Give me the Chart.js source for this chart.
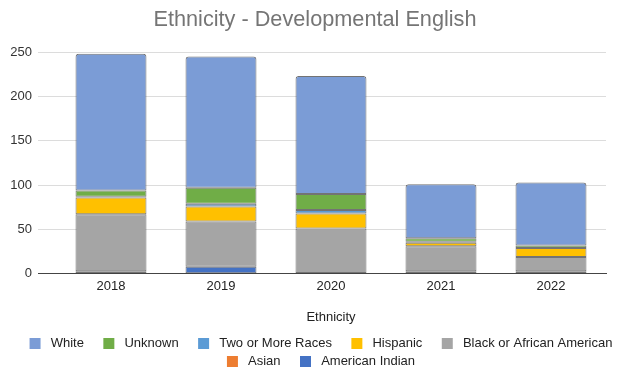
<!DOCTYPE html>
<html>
<head>
<meta charset="utf-8">
<script src="https://cdn.jsdelivr.net/npm/chart.js@4"></script>
<style>
  body { margin: 0; background: #fff; }
  #wrap { width: 620px; height: 367px; }
</style>
</head>
<body>
<div id="wrap"><canvas id="grafico"></canvas></div>
<script>
const anos = ['2018', '2019', '2020', '2021', '2022'];
const americanIndian = [3, 8, 0, 3, 3];
const asian = [0, 0, 1, 0, 0];
const black = [64, 51, 50, 28, 16];
const hispanic = [19, 17, 17, 4, 10];
const twoOrMore = [1, 3, 4, 1, 0];
const unknown = [7, 18, 18, 4, 3];
const white = [154, 148, 133, 61, 71];
const yTicks = [0, 50, 100, 150, 200, 250];

Chart.defaults.font.family = '"Liberation Sans", Arial, sans-serif';
Chart.defaults.color = '#333';

function serie(nome, valores, cor, extra) {
    return Object.assign({
        label: nome,
        data: valores,
        backgroundColor: cor,
        borderColor: 'rgba(55,55,55,0.7)',
        borderWidth: 1,
        borderSkipped: false,
        barPercentage: 0.645,
        categoryPercentage: 1
    }, extra || {});
}

// ajustes finos de posicao do titulo e da legenda
const ajusteLegenda = {
    id: 'ajusteLegenda',
    beforeLayout(chart) {
        const lg = chart.legend;
        if (lg && !lg._ajustado) {
            const fitOriginal = lg.fit;
            lg.fit = function() {
                fitOriginal.call(this);
                this.height -= 4;
            };
            lg._ajustado = true;
        }
    },
    afterLayout(chart) {
        const lg = chart.legend;
        if (lg) {
            lg.left += 16; lg.right += 16;
            lg.top += 7; lg.bottom += 7;
        }
        const tt = chart.titleBlock;
        if (tt) {
            tt.left += 10; tt.right += 10;
        }
    }
};

const semEspacoFinal = ['Black or African American', 'American Indian'];

new Chart(document.getElementById('grafico'), {
    type: 'bar',
    data: {
        labels: anos,
        datasets: [
            serie('American Indian', americanIndian, '#4472c4'),
            serie('Asian', asian, '#ed7d31'),
            serie('Black or African American', black, '#a5a5a5'),
            serie('Hispanic', hispanic, '#ffc000'),
            serie('Two or More Races', twoOrMore, '#5b9bd5'),
            serie('Unknown', unknown, '#70ad47'),
            serie('White', white, '#7b9cd6', { borderRadius: { topLeft: 3, topRight: 3 } })
        ]
    },
    plugins: [ajusteLegenda],
    options: {
        responsive: true,
        maintainAspectRatio: false,
        animation: false,
        layout: { padding: { left: 4, right: 14, top: 0, bottom: 0 } },
        scales: {
            x: {
                stacked: true,
                grid: { display: false, drawTicks: false },
                border: { color: '#444', width: 1 },
                ticks: { font: { size: 13 }, color: '#222', padding: 5 },
                title: { display: true, text: 'Ethnicity', font: { size: 13 }, color: '#222', padding: { top: 10, bottom: 0 } }
            },
            y: {
                stacked: true,
                min: 0,
                max: 250,
                afterBuildTicks: function(scale) {
                    scale.ticks = yTicks.map(v => ({ value: v }));
                },
                afterFit: function(scale) {
                    scale.width = 52;
                },
                grid: {
                    color: ctx => (ctx.tick && ctx.tick.value === 0) ? '#444' : '#dcdcdc',
                    tickLength: 18,
                    drawTicks: true
                },
                border: { display: false },
                ticks: { font: { size: 13 }, color: '#333', padding: 6 }
            }
        },
        plugins: {
            title: {
                display: true,
                text: 'Ethnicity - Developmental English',
                font: { size: 21.7, weight: 'normal' },
                color: '#757575',
                padding: { top: 7, bottom: 19 }
            },
            legend: {
                position: 'bottom',
                reverse: true,
                labels: {
                    boxWidth: 11,
                    boxHeight: 11,
                    padding: 5,
                    font: { size: 13 },
                    color: '#222',
                    generateLabels: function(chart) {
                        const itens = Chart.defaults.plugins.legend.labels.generateLabels(chart);
                        itens.forEach(it => {
                            const fim = semEspacoFinal.includes(it.text) ? '' : '\u00a0\u00a0\u00a0\u00a0';
                            it.text = '\u00a0' + it.text + fim;
                            it.strokeStyle = it.fillStyle;
                            it.lineWidth = 0;
                        });
                        return itens;
                    }
                }
            },
            tooltip: { enabled: false }
        }
    }
});
</script>
</body>
</html>
